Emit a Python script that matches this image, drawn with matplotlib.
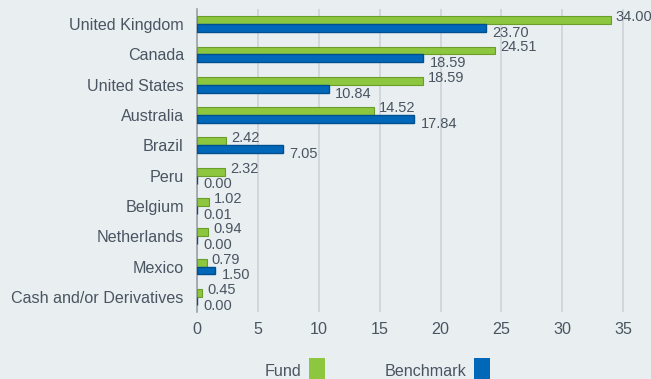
import matplotlib
matplotlib.use("Agg")
import matplotlib.pyplot as plt
import numpy as np
from matplotlib.patches import Rectangle

categories = ["United Kingdom", "Canada", "United States", "Australia", "Brazil",
              "Peru", "Belgium", "Netherlands", "Mexico", "Cash and/or Derivatives"]
fund = [34.00, 24.51, 18.59, 14.52, 2.42, 2.32, 1.02, 0.94, 0.79, 0.45]
benchmark = [23.70, 18.59, 10.84, 17.84, 7.05, 0.00, 0.01, 0.00, 1.50, 0.00]
xticks = [0, 5, 10, 15, 20, 25, 30, 35]

BG = "#e9eef1"
GREEN = "#8dc63f"
GREEN_EDGE = "#6a9e2a"
BLUE = "#0067b9"
BLUE_EDGE = "#004f8f"
TEXT = "#4a5561"
GRID = "#cdd3d8"

plt.rcParams["font.family"] = ["Liberation Sans", "DejaVu Sans"]

fig = plt.figure(figsize=(6.51, 3.79), dpi=100, facecolor=BG)
ax = fig.add_axes([197 / 651, 1 - 312 / 379, (625 - 197) / 651, (312 - 9) / 379])
ax.set_facecolor(BG)

y = np.arange(len(categories))
h = 0.26
ax.barh(y - h / 2, fund, height=h, color=GREEN, edgecolor=GREEN_EDGE, linewidth=0.8, zorder=6)
ax.barh(y + h / 2, benchmark, height=h, color=BLUE, edgecolor=BLUE_EDGE, linewidth=1.0, zorder=6)

for yi, f, b in zip(y, fund, benchmark):
    ax.annotate(f"{f:.2f}", (f, yi - h / 2), xytext=(3.5, 2.2), textcoords="offset points",
                ha="left", va="center", fontsize=10.5, color=TEXT, zorder=7)
    ax.annotate(f"{b:.2f}", (b, yi + h / 2), xytext=(4.5, -3.5), textcoords="offset points",
                ha="left", va="center", fontsize=10.5, color=TEXT, zorder=7)

ax.set_ylim(len(categories) - 0.5, -0.5)
ax.set_xlim(0, 35.15)
ax.set_yticks(y)
ax.set_yticklabels(categories, fontsize=11.6, color=TEXT)
ax.set_xticks(xticks)
ax.set_xticklabels([str(t) for t in xticks], fontsize=11.6, color=TEXT)
ax.tick_params(axis="y", length=0, pad=9.5)
ax.tick_params(axis="x", length=0, pad=7)
ax.grid(axis="x", color=GRID, linewidth=1.2, zorder=0)
for s in ["top", "right", "bottom"]:
    ax.spines[s].set_visible(False)
ax.spines["left"].set_color("#9aa3aa")
ax.spines["left"].set_linewidth(1.2)
ax.spines["left"].set_zorder(5)

# legend drawn along the bottom edge
fig.text(301 / 651, 1 - 371 / 379, "Fund", ha="right", va="center", fontsize=11.6, color=TEXT)
fig.patches.append(Rectangle((309 / 651, 0), 16 / 651, 21 / 379, transform=fig.transFigure,
                             facecolor=GREEN, edgecolor="none"))
fig.text(466 / 651, 1 - 371 / 379, "Benchmark", ha="right", va="center", fontsize=11.6, color=TEXT)
fig.patches.append(Rectangle((474 / 651, 0), 16 / 651, 21 / 379, transform=fig.transFigure,
                             facecolor=BLUE, edgecolor="none"))

fig.savefig("out.png", dpi=100, facecolor=BG)
